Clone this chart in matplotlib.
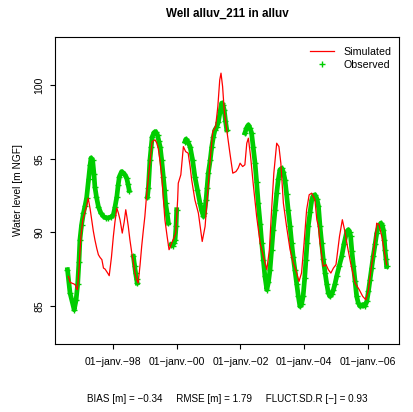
import matplotlib
matplotlib.use('Agg')
import matplotlib.pyplot as plt
import matplotlib.dates as mdates
from matplotlib.lines import Line2D
from matplotlib.ticker import FuncFormatter
import numpy as np
from datetime import datetime

plt.rcParams['font.family'] = ['Liberation Sans', 'DejaVu Sans']

# Niveaux observés (années décimales), NaN = pas de mesure
obs_annee = [
    1996.57, 1996.65, 1996.78, 1996.84, 1996.89, 1996.93, 1996.96, 1997.01, 1997.07, 1997.12,
    1997.17, 1997.23, 1997.28, 1997.31, 1997.36, 1997.40, 1997.43, 1997.48, 1997.54, 1997.61,
    1997.70, 1997.78, 1997.85, 1997.94, 1998.01, 1998.06, 1998.12, 1998.16, 1998.20, 1998.27,
    1998.35, 1998.43, 1998.47, 1998.51,
    1998.58,
    1998.64, 1998.68, 1998.71, 1998.74, 1998.76,
    1998.90,
    1999.08, 1999.11, 1999.16, 1999.20, 1999.23, 1999.29, 1999.34, 1999.40, 1999.44, 1999.48,
    1999.53, 1999.58, 1999.62, 1999.65, 1999.70, 1999.74,
    1999.78,
    1999.82, 1999.87, 1999.92, 1999.95, 1999.98, 2000.00,
    2000.10,
    2000.26, 2000.29, 2000.34, 2000.42, 2000.50, 2000.57, 2000.65, 2000.73, 2000.78, 2000.84,
    2000.87, 2000.92, 2000.95, 2000.99, 2001.05, 2001.10, 2001.15, 2001.20, 2001.26, 2001.31,
    2001.36, 2001.41, 2001.45, 2001.49, 2001.53, 2001.57,
    2001.80,
    2002.14, 2002.19, 2002.25, 2002.30, 2002.35, 2002.40, 2002.46, 2002.51, 2002.56, 2002.62,
    2002.67, 2002.72, 2002.77, 2002.83, 2002.88, 2002.93, 2002.98, 2003.03, 2003.09, 2003.14,
    2003.19, 2003.24, 2003.30, 2003.35, 2003.40, 2003.45, 2003.50, 2003.56, 2003.61, 2003.66,
    2003.71, 2003.77, 2003.82, 2003.87, 2003.92, 2003.97, 2004.02, 2004.06, 2004.10, 2004.13,
    2004.19, 2004.24, 2004.29, 2004.34, 2004.40, 2004.45, 2004.50, 2004.55, 2004.60, 2004.66,
    2004.71, 2004.76, 2004.81, 2004.87, 2004.92, 2004.97, 2005.02, 2005.10, 2005.18, 2005.25,
    2005.34, 2005.39, 2005.43, 2005.46, 2005.50, 2005.55, 2005.60, 2005.65, 2005.70, 2005.76,
    2005.81, 2005.86, 2005.91, 2005.97, 2006.02, 2006.07, 2006.12, 2006.17, 2006.23, 2006.28,
    2006.34, 2006.41, 2006.45, 2006.49, 2006.52, 2006.54, 2006.57, 2006.59,
]
obs_niveau = [
    87.46, 85.87, 84.73, 85.40, 86.50, 88.00, 89.50, 90.50, 91.30, 91.80,
    92.35, 93.60, 94.60, 95.07, 94.90, 94.00, 93.10, 92.40, 91.76, 91.35,
    91.08, 90.98, 90.99, 91.05, 91.20, 91.70, 92.44, 93.20, 93.80, 94.14,
    94.00, 93.69, 93.30, 92.85,
    np.nan,
    88.36, 87.70, 87.20, 86.80, 86.55,
    np.nan,
    92.40, 93.00, 94.94, 95.80, 96.50, 96.80, 96.86, 96.60, 96.20, 95.84,
    94.90, 93.80, 92.90, 92.00, 91.30, 90.63,
    np.nan,
    89.16, 89.10, 89.30, 89.50, 90.40, 91.54,
    np.nan,
    96.18, 96.35, 96.20, 95.84, 94.90, 93.80, 92.90, 91.99, 91.50, 91.08,
    91.30, 92.20, 93.00, 94.03, 94.90, 95.84, 96.50, 96.98, 97.20, 97.54,
    98.20, 98.80, 98.70, 98.34, 97.60, 96.98,
    np.nan,
    96.76, 97.10, 97.32, 97.10, 96.76, 95.80, 94.71, 93.40, 91.99, 90.60,
    89.27, 88.10, 87.00, 86.10, 86.60, 87.46, 88.80, 90.18, 91.50, 92.67,
    93.60, 94.26, 94.37, 94.10, 93.58, 92.60, 91.54, 90.40, 89.27, 88.30,
    87.46, 86.50, 85.64, 84.96, 85.10, 85.64, 86.90, 88.14, 89.30, 90.40,
    91.40, 92.22, 92.50, 92.56, 92.30, 91.80, 90.40, 89.27, 88.20, 87.23,
    86.50, 85.87, 85.64, 85.80, 86.10, 86.50, 87.00, 87.70, 88.36, 89.20,
    90.06, 90.18, 90.00, 89.72, 88.70, 87.68, 86.70, 85.64, 85.20, 84.96,
    85.05, 85.07, 85.00, 85.30, 86.00, 86.78, 87.60, 88.36, 89.20, 89.95,
    90.40, 90.63, 90.50, 90.18, 89.50, 88.82, 88.20, 87.68,
]

# Niveaux simulés
sim_annee = [
    1996.60, 1996.65, 1996.70, 1996.76, 1996.81, 1996.85, 1996.88, 1996.93, 1996.99, 1997.05,
    1997.12, 1997.17, 1997.22, 1997.28, 1997.33, 1997.38, 1997.43, 1997.49, 1997.54, 1997.59,
    1997.65, 1997.70, 1997.75, 1997.80, 1997.84, 1997.88, 1997.95, 1998.01, 1998.06, 1998.12,
    1998.17, 1998.22, 1998.29, 1998.35, 1998.40, 1998.44, 1998.48, 1998.53, 1998.59, 1998.64,
    1998.69, 1998.74, 1998.79, 1998.85, 1998.90, 1998.95, 1999.00, 1999.06, 1999.11, 1999.16,
    1999.23, 1999.32, 1999.37, 1999.42, 1999.48, 1999.53, 1999.58, 1999.63, 1999.70, 1999.76,
    1999.80, 1999.84, 1999.91, 1999.97, 2000.03, 2000.05, 2000.13, 2000.21, 2000.28, 2000.36,
    2000.42, 2000.47, 2000.57, 2000.68, 2000.75, 2000.80, 2000.89, 2000.97, 2001.05, 2001.13,
    2001.22, 2001.29, 2001.35, 2001.39, 2001.44, 2001.49, 2001.57, 2001.67, 2001.76, 2001.86,
    2001.93, 2001.99, 2002.07, 2002.14, 2002.20, 2002.25, 2002.32, 2002.40, 2002.51, 2002.62,
    2002.72, 2002.83, 2002.91, 2002.98, 2003.05, 2003.14, 2003.21, 2003.27, 2003.35, 2003.45,
    2003.56, 2003.66, 2003.77, 2003.84, 2003.92, 2004.00, 2004.08, 2004.16, 2004.24, 2004.29,
    2004.34, 2004.40, 2004.45, 2004.50, 2004.60, 2004.69, 2004.76, 2004.84, 2004.92, 2005.00,
    2005.11, 2005.20, 2005.28, 2005.36, 2005.46, 2005.60, 2005.73, 2005.84, 2005.94, 2006.02,
    2006.10, 2006.19, 2006.28, 2006.35, 2006.44, 2006.51, 2006.59,
]
sim_niveau = [
    87.00, 86.60, 86.55, 86.50, 86.44, 86.20, 86.10, 87.46, 89.72, 90.86,
    91.42, 91.80, 92.33, 91.60, 90.86, 90.10, 89.50, 88.90, 88.48, 88.30,
    88.14, 87.57, 87.50, 87.34, 87.20, 87.05, 88.30, 89.72, 90.70, 91.65,
    91.30, 90.86, 89.95, 90.70, 91.54, 91.00, 90.40, 89.50, 88.59, 87.90,
    87.23, 86.80, 86.55, 87.80, 89.04, 90.10, 91.08, 92.67, 93.70, 94.71,
    96.18, 96.30, 96.10, 95.73, 94.80, 93.80, 92.30, 90.86, 89.72, 88.82,
    89.00, 89.27, 89.60, 89.95, 92.22, 93.35, 93.92, 95.84, 95.50, 95.39,
    94.50, 93.58, 92.22, 91.31, 90.18, 89.38, 90.40, 92.67, 94.94, 96.86,
    97.20, 98.56, 100.38, 100.84, 99.93, 98.34, 96.98, 95.39, 94.03, 94.14,
    94.37, 94.71, 94.48, 94.60, 96.07, 96.41, 95.16, 93.35, 91.08, 89.27,
    88.36, 87.46, 88.82, 91.54, 94.03, 96.07, 95.84, 94.71, 91.99, 90.40,
    88.82, 87.91, 87.23, 86.66, 87.23, 89.27, 91.54, 92.56, 92.67, 92.44,
    92.22, 90.86, 90.40, 89.27, 87.68, 87.80, 87.46, 87.23, 87.57, 87.80,
    89.72, 90.86, 90.06, 89.04, 87.91, 86.55, 86.10, 85.64, 85.41, 86.10,
    87.46, 88.82, 90.63, 90.52, 89.72, 88.82, 87.80,
]

ticks_annee = [1998, 2000, 2002, 2004, 2006]
mois_fr = ['janv.', 'févr.', 'mars', 'avr.', 'mai', 'juin', 'juil.', 'août',
           'sept.', 'oct.', 'nov.', 'déc.']

titre = 'Well alluv_211 in alluv'
stats = 'BIAS [m] = \u22120.34     RMSE [m] = 1.79     FLUCT.SD.R [\u2212] = 0.93'


def annee_vers_date(a):
    """Convertit une année décimale en datetime."""
    y = int(a)
    debut = datetime(y, 1, 1)
    fin = datetime(y + 1, 1, 1)
    return debut + (fin - debut) * (a - y)


def format_date(x, pos):
    d = mdates.num2date(x)
    return f'{d.day:02d}\u2212{mois_fr[d.month - 1]}\u2212{d.year % 100:02d}'


W, H = 414, 412
fig = plt.figure(figsize=(W / 100, H / 100), dpi=100)
fig.patch.set_facecolor('white')
ax = fig.add_axes([55 / W, 1 - 344 / H, 344 / W, 307 / H])

vert = '#00CD00'
obs_dates = [annee_vers_date(a) for a in obs_annee]
sim_dates = [annee_vers_date(a) for a in sim_annee]

# bande des observations (mesures très denses) + marqueurs
ax.plot(obs_dates, obs_niveau, '-', color=vert, linewidth=3.4, zorder=2)
ax.plot(obs_dates, obs_niveau, '+', color=vert, markersize=5, markeredgewidth=1.0, zorder=3)
ax.plot(sim_dates, sim_niveau, '-', color='#FF0000', linewidth=0.9, zorder=4)

ax.set_xlim(annee_vers_date(1996.179), annee_vers_date(2006.98))
ax.set_ylim(82.4, 103.3)

ax.set_xticks([datetime(a, 1, 1) for a in ticks_annee])
ax.xaxis.set_major_formatter(FuncFormatter(format_date))
ax.set_yticks([85, 90, 95, 100])
ax.set_yticklabels(['85', '90', '95', '100'], rotation=90, va='center')

ax.tick_params(axis='both', direction='out', length=3.6, width=0.8, labelsize=7.5, colors='black')
ax.tick_params(axis='x', pad=6)
ax.tick_params(axis='y', pad=4.3)
for s in ax.spines.values():
    s.set_linewidth(0.8)
    s.set_color('black')

handles = [Line2D([], [], color='#FF0000', linewidth=0.9),
           Line2D([], [], color=vert, marker='+', linestyle='none', markersize=4.5, markeredgewidth=1.0)]
ax.legend(handles, ['Simulated', 'Observed'], loc='upper right', frameon=False, fontsize=7.7,
          bbox_to_anchor=(1.0, 0.992),
          handlelength=2.2, handletextpad=0.9, labelspacing=0.3, borderaxespad=0.3, borderpad=0.4)

fig.text(227 / W, 1 - 13.5 / H, titre, ha='center', va='center', fontsize=8.4, fontweight='bold')
fig.text(18 / W, 1 - 190 / H, 'Water level [m NGF]', rotation=90, ha='center', va='center', fontsize=7.3)
fig.text(227 / W, 1 - 399 / H, stats, ha='center', va='center', fontsize=7.1)

fig.savefig('out.png', dpi=100)
